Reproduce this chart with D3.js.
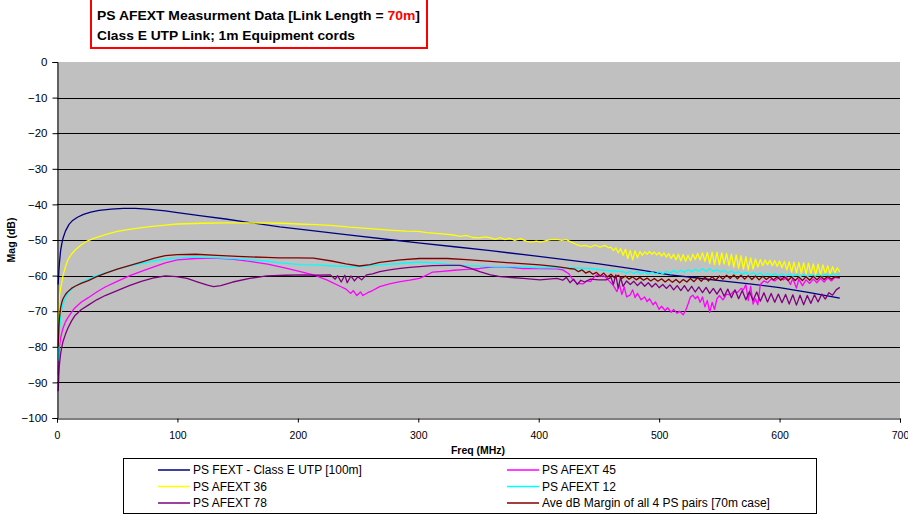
<!DOCTYPE html>
<html>
<head>
<meta charset="utf-8">
<script src="https://cdn.jsdelivr.net/npm/d3@7"></script>
<style>
  html, body { margin: 0; padding: 0; background: #fff; }
  svg { display: block; font-family: Arial, "Liberation Sans", sans-serif; }
</style>
</head>
<body>
<svg id="chart" width="908" height="520"></svg>
<script>
// Axis ticks
const freqTicks = [0, 100, 200, 300, 400, 500, 600, 700];
const magTicks = [0, -10, -20, -30, -40, -50, -60, -70, -80, -90, -100];

// Series: [frequency MHz, magnitude dB]
const psFext = [
  [1,-62.5],[1.5,-59],[2,-56.5],[3,-53],[4,-51],[5,-49.5],[7,-47.5],[10,-45.6],[13,-44.5],[17,-43.6],
  [22,-42.8],[28,-42.2],[35,-41.7],[45,-41.3],[55,-41.1],[65,-41.1],[75,-41.3],[90,-41.8],[100,-42.3],
  [120,-43.2],[140,-44.1],[160,-45.1],[185,-46.3],[210,-47.3],[240,-48.5],[279,-50],[300,-50.8],
  [330,-51.9],[360,-53],[400,-54.6],[450,-56.7],[480,-58.2],[509,-59.8],[530,-60.6],[550,-61.4],
  [575,-62.3],[600,-63.4],[625,-64.8],[650,-66.3]
];

const psAfext45 = [
  [1,-88],[1.5,-83],[2,-80],[3,-77.6],[4,-76],[5,-74.8],[7,-73],[9,-71.8],[12,-70.3],[15,-69],[20,-67.5],
  [26,-66.2],[33,-64.6],[40,-63.2],[50,-61.6],[60,-60.1],[70,-58.8],[81,-57.5],[90,-56.4],[100,-55.6],
  [115,-55.2],[130,-55.1],[145,-55.4],[160,-56],[175,-56.8],[190,-57.9],[202,-58.9],[213,-59.8],
  [224,-61.2],[235,-63],[240,-63.8],[244,-65],[246,-64.2],[249,-65.6],[252,-64.6],[254,-65.6],
  [258,-64.8],[262,-64.2],[268,-63.1],[276,-62.3],[285,-61.7],[293,-61.3],[301,-60.8],[306,-60],
  [312,-59],[320,-58.8],[330,-58.5],[337,-58.3],[344,-58.2],[351,-58],[360,-57.6],[368,-57.5],
  [375,-57.6],[387,-58],[400,-58],[415,-58.1],[420,-58.4],[425,-59.5],[428,-61],[432,-62.2],
  [437,-62.3],[440,-61.5],[443,-61.7],[446,-60.4],[448,-59.8],[451,-60.2],[454,-60],[457,-61],
  [459,-61.7],[462,-62.8],[465,-64.5],[467,-62.5],[469,-65.3],[471,-63.2],[473,-66],[476,-65.4],
  [478,-64],[480,-66.2],[482,-65],[485,-66.8],[488,-66],[490,-67.3],[492,-66.5],[495,-68.2],
  [497,-67.4],[500,-69.5],[502,-68.6],[505,-69.8],[507,-69],[510,-70.3],[512,-69.5],[515,-70.6],
  [517,-70],[520,-71],[522,-69.8],[524,-68],[526,-66],[528,-65.5],[530,-66.5],[532,-65.8],
  [534,-67.5],[536,-66],[538,-68.8],[540,-67],[542,-70.3],[544,-67.5],[546,-69.5],[548,-66.5],
  [550,-65.6],[553,-66.8],[556,-65.2],[559,-65.4],[562,-64.4],[565,-64.8],[568,-63.6],[570,-64],
  [572,-62.5],[574,-67],[576,-63],[578,-68],[580,-66.5],[582,-68.2],[584,-62.5],[587,-61.5],
  [590,-62],[593,-61],[596,-61.5],[600,-60.3],[603,-61.2],[606,-60.5],[609,-62.5],[611,-60.8],
  [614,-63.5],[616,-61],[619,-62.8],[622,-61.2],[625,-62.2],[628,-61],[631,-62],[634,-60.8],
  [637,-61.8],[640,-60.6],[643,-61.5],[646,-60.5],[650,-60.8]
];

const psAfext36 = [
  [1,-73.5],[1.5,-69],[2,-66],[3,-63.5],[4,-62],[5,-60],[7,-57.5],[9,-55.6],[12,-54],[15,-52.8],
  [20,-51.4],[25,-50.3],[30,-49.6],[40,-48.5],[50,-47.6],[60,-47],[75,-46.3],[90,-45.8],[100,-45.5],
  [120,-45.3],[140,-45.2],[160,-45.2],[187,-45.3],[200,-45.5],[215,-45.7],[227,-45.9],[243,-46.4],
  [260,-46.8],[276,-47.2],[290,-47.5],[300,-47.6],[307,-47.9],[320,-48.3],[330,-48.6],[335,-49],
  [340,-48.7],[345,-49.3],[351,-49.4],[356,-49.1],[360,-49.4],[364,-49.8],[368,-49.3],[372,-49.9],
  [376,-49.5],[380,-50.1],[385,-49.6],[390,-50.4],[394,-50.6],[398,-50.3],[402,-50.6],[406,-50.2],
  [410,-49.9],[415,-49.8],[419,-50.1],[423,-49.9],[427,-50.6],[431,-51.2],[435,-51.7],[439,-51.5],
  [443,-52],[447,-51.4],[451,-52],[455,-51.5],[458,-52.2],
  [460,-52],[462,-53],[464,-52.2],[466,-53.6],[468,-52.4],[470,-54.3],[472,-52.6],[474,-55.2],
  [476,-52.9],[478,-55.6],[480,-53],[482,-55],[484,-53.2],[486,-54.3],[488,-53.3],[490,-54],
  [492,-53.2],[494,-54],[496,-53.4],[498,-54.2],[500,-53.5],[502,-54.5],[504,-53.6],[506,-54.8],
  [508,-53.8],[510,-55.2],[512,-54],[514,-55.6],[516,-54],[518,-55.9],[520,-54.1],[522,-56],
  [524,-54.3],[526,-55.8],[528,-54],[530,-55.5],[532,-53.8],[534,-55.6],[536,-53.6],[538,-56],
  [540,-53.5],[542,-56.6],[544,-53.4],[546,-56.9],[548,-53.4],[550,-57],[552,-53.6],[554,-56.8],
  [556,-53.8],[558,-57.2],[560,-54],[562,-57.6],[564,-54.2],[566,-57.9],[568,-54.4],[570,-58.2],
  [572,-54.7],[574,-58.4],[576,-55],[578,-58.2],[580,-55.3],[582,-57.6],[584,-55.5],[586,-57.2],
  [588,-55.6],[590,-57],[592,-55.7],[594,-57.2],[596,-55.8],[598,-57.4],[600,-55.9],[602,-57.8],
  [604,-56],[606,-58.4],[608,-56.1],[610,-59],[612,-56.2],[614,-59.3],[616,-56.3],[618,-59.4],
  [620,-56.4],[622,-59.5],[624,-56.5],[626,-59.6],[628,-56.7],[630,-59.8],[632,-56.8],[634,-59.7],
  [636,-57],[638,-59.6],[640,-57.2],[642,-59.5],[644,-57.5],[646,-59.2],[648,-57.8],[650,-59]
];

const psAfext12 = [
  [1,-84],[1.5,-79],[2,-75.5],[3,-71.5],[4,-69.5],[5,-68],[7,-66.2],[9,-65],[12,-63.8],[15,-63],
  [20,-62],[26,-61],[33,-60],[40,-59.2],[50,-58.2],[60,-57.3],[70,-56.6],[80,-55.9],[90,-55.4],
  [100,-55],[115,-54.8],[133,-55],[150,-55.3],[174,-55.9],[185,-56.4],[203,-56.9],[215,-57],
  [230,-57.3],[243,-57.5],[255,-57.4],[268,-57],[285,-56.6],[301,-56.2],[312,-56.4],[324,-56.8],
  [340,-57.2],[360,-57.4],[380,-57.5],[401,-57.8],[420,-57.8],[443,-58],[455,-58.5],
  [470,-58.9],[473,-59.3],[476,-58.8],[479,-59.4],[482,-58.9],[485,-59.5],[488,-59],[491,-59.6],
  [494,-59],[497,-59.6],[500,-58.9],[503,-59.5],[506,-58.8],[509,-59.3],[512,-58.6],[515,-59.2],
  [518,-58.5],[521,-59.1],[524,-58.3],[527,-58.9],[530,-58.2],[533,-58.8],[536,-58.1],[539,-58.8],
  [542,-58.1],[545,-58.8],[548,-58.3],[551,-59],[554,-58.5],[557,-59.2],[560,-58.7],[563,-59.4],
  [566,-58.9],[569,-59.6],[572,-59.1],[575,-59.7],[578,-59.2],[581,-59.8],[584,-59.3],[587,-59.9],
  [590,-59.4],[593,-60],[596,-59.4],[599,-60.1],[602,-59.5],[605,-60.2],[608,-59.5],[611,-60.2],
  [614,-59.6],[617,-60.3],[620,-59.6],[623,-60.3],[626,-59.7],[629,-60.3],[632,-59.6],[635,-60.2],
  [638,-59.5],[641,-60.1],[644,-59.4],[647,-59.9],[650,-59.5]
];

const psAfext78 = [
  [1,-92.5],[1.5,-88],[2,-85],[3,-82],[4,-80],[5,-78.5],[7,-76.5],[9,-74.8],[12,-72.8],[15,-71.2],
  [20,-69.6],[26,-68.3],[33,-66.8],[40,-65.6],[50,-64.2],[60,-62.8],[70,-61.6],[81,-60.6],[90,-60.1],
  [99,-60.3],[108,-60.8],[117,-61.8],[125,-62.7],[130,-63.1],[136,-62.8],[146,-61.8],[160,-60.8],
  [174,-60.1],[190,-59.9],[205,-59.8],[215,-59.9],[227,-59.8],[231,-61],[233,-60],[236,-61.8],
  [239,-59.9],[241,-62],[244,-60.1],[247,-61.5],[250,-60.3],[253,-61.2],[257,-59.8],[262,-59.5],
  [268,-58.9],[276,-58.4],[285,-58],[293,-57.7],[301,-57.5],[312,-57.2],[324,-57.1],[335,-57.1],
  [343,-57.9],[351,-58.9],[360,-59.8],[368,-60.3],[380,-60.6],[387,-60.8],[401,-61.2],[415,-60.8],
  [420,-61.3],[423,-60.5],[426,-62],[429,-61],[432,-62.5],[435,-61.3],[438,-61.8],[443,-61],
  [450,-61.2],[456,-61.2],[460,-60.5],[462,-62.5],[464,-59.8],[466,-63.5],[468,-60.5],[470,-63],
  [473,-61.5],[476,-62.5],[479,-61.6],[482,-62.8],[485,-61.8],[488,-63],[491,-62],[494,-63.2],
  [497,-62.2],[500,-63.4],[503,-62.5],[506,-63.6],[509,-62.6],[512,-64],[515,-62.8],[518,-64.2],
  [521,-62.8],[524,-64.4],[527,-63],[530,-64.6],[533,-63.2],[536,-64.8],[539,-63.3],[542,-65],
  [545,-63.6],[548,-65.2],[551,-63.6],[554,-65.8],[557,-63.8],[560,-66.2],[563,-64],[566,-66.5],
  [569,-64.2],[572,-66.8],[575,-64.5],[578,-67],[581,-64.6],[584,-67.2],[587,-64.8],[590,-67.4],
  [593,-65],[596,-67.5],[599,-65.2],[602,-67.6],[605,-65.3],[608,-68],[611,-65.4],[614,-68.3],
  [617,-65.5],[620,-68.2],[623,-65.6],[626,-67.8],[629,-65.4],[632,-67.4],[635,-65.2],[638,-66.6],
  [641,-64.8],[644,-65.5],[647,-64],[650,-63.3]
];

const aveMargin = [
  [1,-80],[1.5,-75],[2,-72],[3,-69],[4,-67.5],[5,-66.5],[7,-65.3],[9,-64.5],[12,-63.6],[15,-63],
  [20,-62.2],[26,-61.4],[33,-60.3],[40,-59.4],[50,-58.2],[60,-57.2],[70,-56.2],[81,-55.1],[90,-54.4],
  [100,-54.1],[115,-54],[133,-54.3],[150,-54.6],[174,-54.9],[185,-55],[200,-55],[213,-55.1],
  [228,-55.9],[240,-56.7],[251,-57.3],[260,-56.9],[268,-56.3],[285,-55.6],[301,-55.2],[324,-55.2],
  [340,-55.5],[360,-56],[380,-56.5],[401,-57],[415,-57.5],[425,-58],
  [430,-58.2],[433,-58.9],[436,-58.4],[439,-59.3],[442,-58.8],[445,-59.6],[448,-59.1],[451,-60.1],
  [454,-59.3],[457,-60.4],[460,-59.6],[463,-60.6],[466,-59.9],[469,-60.8],[472,-60.1],[475,-61],
  [478,-60.3],[481,-61.2],[484,-60.5],[487,-61.3],[490,-60.7],[493,-61.5],[496,-60.8],[499,-61.6],
  [502,-60.9],[505,-61.8],[508,-61],[511,-61.9],[514,-61.1],[517,-62],[520,-61.1],[523,-61.8],
  [526,-60.8],[529,-61.7],[532,-60.6],[535,-61.6],[538,-60.4],[541,-61.5],[544,-60.3],[547,-61.3],
  [550,-60.1],[553,-61],[556,-59.9],[559,-60.8],[562,-59.8],[565,-60.9],[568,-59.9],[571,-61],
  [574,-60],[577,-61.1],[580,-60.1],[583,-61.2],[586,-60.2],[589,-61.1],[592,-60.3],[595,-61.2],
  [598,-60.3],[601,-61.3],[604,-60.3],[607,-61.4],[610,-60.4],[613,-61.4],[616,-60.4],[619,-61.4],
  [622,-60.3],[625,-61.3],[628,-60.2],[631,-61.2],[634,-60.2],[637,-61.1],[640,-60.2],[643,-61],
  [646,-60.3],[650,-60.6]
];

const seriesNames = [
  "PS FEXT - Class E UTP [100m]",
  "PS AFEXT 45",
  "PS AFEXT 36",
  "PS AFEXT 12",
  "PS AFEXT 78",
  "Ave dB Margin of all 4 PS pairs [70m case]"
];
const seriesData = [psFext, psAfext45, psAfext36, psAfext12, psAfext78, aveMargin];
const seriesColors = ["#000080", "#FF00FF", "#FFFF00", "#00FFFF", "#800080", "#800000"];

const svg = d3.select("#chart");
const plot = { left: 57, right: 900, top: 62, bottom: 418 };

const x = d3.scaleLinear().domain([0, 700]).range([plot.left, plot.right]);
const y = d3.scaleLinear().domain([-100, 0]).range([plot.bottom, plot.top]);

// plot background
svg.append("rect")
  .attr("x", plot.left).attr("y", plot.top)
  .attr("width", plot.right - plot.left).attr("height", plot.bottom - plot.top)
  .attr("fill", "#C0C0C0");

// horizontal gridlines
svg.append("g").selectAll("line")
  .data(magTicks.filter(d => d !== 0 && d !== -100))
  .join("line")
  .attr("x1", plot.left).attr("x2", plot.right)
  .attr("y1", d => Math.round(y(d)) + 0.5).attr("y2", d => Math.round(y(d)) + 0.5)
  .attr("stroke", "#000").attr("stroke-width", 1);

// series lines
const line = d3.line().x(d => x(d[0])).y(d => y(d[1]));
svg.append("g").selectAll("path")
  .data(seriesData)
  .join("path")
  .attr("d", line)
  .attr("fill", "none")
  .attr("stroke", (d, i) => seriesColors[i])
  .attr("stroke-width", 1.3)
  .attr("stroke-linejoin", "round");

// axes
const yAxis = d3.axisLeft(y).tickValues(magTicks).tickSize(5).tickPadding(5).tickFormat(d3.format("d"));
const gy = svg.append("g").attr("transform", `translate(${plot.left + 0.5},0)`).call(yAxis);
gy.select(".domain").attr("stroke", "#000");
gy.selectAll(".tick line").attr("stroke", "#000");
gy.selectAll("text").attr("font-size", 11.5).attr("fill", "#000")
  .attr("font-family", "Arial, 'Liberation Sans', sans-serif");

const xAxis = d3.axisBottom(x).tickValues(freqTicks).tickSize(4).tickPadding(9).tickFormat(d3.format("d"));
const gx = svg.append("g").attr("transform", `translate(0,${plot.bottom + 0.5})`).call(xAxis);
gx.select(".domain").attr("stroke", "#000");
gx.selectAll(".tick line").attr("stroke", "#000");
gx.selectAll("text").attr("font-size", 10.5).attr("fill", "#000")
  .attr("font-family", "Arial, 'Liberation Sans', sans-serif");

// axis titles
svg.append("text")
  .attr("x", 478).attr("y", 454)
  .attr("text-anchor", "middle")
  .attr("font-size", 10.5).attr("font-weight", "bold")
  .text("Freq (MHz)");

svg.append("text")
  .attr("transform", "translate(15,240) rotate(-90)")
  .attr("text-anchor", "middle")
  .attr("font-size", 10.5).attr("font-weight", "bold")
  .text("Mag (dB)");

// title box
svg.append("rect")
  .attr("x", 91).attr("y", -2).attr("width", 336).attr("height", 50)
  .attr("fill", "#fff").attr("stroke", "#FF0000").attr("stroke-width", 2);
const t1 = svg.append("text").attr("transform", "translate(97,20) scale(1.16,1)")
  .attr("font-size", 12).attr("font-weight", "bold").attr("fill", "#000");
t1.append("tspan").text("PS AFEXT Measurment Data [Link Length = ");
t1.append("tspan").attr("fill", "#FF0000").text("70m");
t1.append("tspan").text("]");
svg.append("text").attr("transform", "translate(97,39.5) scale(1.15,1)")
  .attr("font-size", 12).attr("font-weight", "bold").attr("fill", "#000")
  .text("Class E UTP Link; 1m Equipment cords");

// legend
svg.append("rect")
  .attr("x", 123.5).attr("y", 458.5).attr("width", 693).attr("height", 55)
  .attr("fill", "#fff").attr("stroke", "#000").attr("stroke-width", 1);

const legendCols = [158, 507];
const legendRows = [470, 486.5, 503];
const legendItems = svg.append("g").selectAll("g")
  .data(seriesNames)
  .join("g")
  .attr("transform", (d, i) => `translate(${legendCols[i % 2]},${legendRows[Math.floor(i / 2)]})`);
legendItems.append("line")
  .attr("x1", 0).attr("x2", 32).attr("y1", 0).attr("y2", 0)
  .attr("stroke", (d, i) => seriesColors[i]).attr("stroke-width", 1.5);
legendItems.append("text")
  .attr("x", 35).attr("y", 4.2)
  .attr("font-size", 12).attr("fill", "#000")
  .text(d => d);
</script>
</body>
</html>
